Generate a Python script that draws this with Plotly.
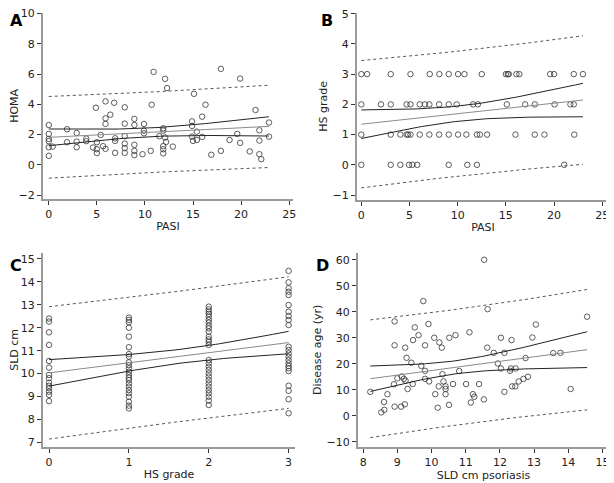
# psoriasis regression panels (A-D)

import numpy as np
import plotly.graph_objects as go

# A: HOMA vs PASI
a_pasi = [0, 0, 0, 0, 0, 0, 0.4, 1.9, 1.9, 2.9, 2.9, 2.9, 3.9, 3.9, 4.6, 4.9, 5, 5, 5,
          5.4, 5.65, 5.9, 5.9, 5.9, 5.9, 6.4, 6.8, 6.9, 6.9, 6.9, 7.9, 7.9, 7.9, 7.9,
          7.9, 7.9, 8.9, 8.9, 8.9, 8.9, 8.9, 9.75, 9.9, 9.9, 9.9, 10.6, 10.7, 10.9,
          11.5, 11.9, 11.9, 11.9, 11.9, 11.9, 12.1, 12.1, 12.2, 12.3, 12.9, 14.9,
          14.9, 14.9, 15.0, 15.1, 15.4, 15.4, 15.95, 15.95, 16.3, 16.9, 17.9, 17.9,
          18.8, 19.6, 19.9, 19.9, 20.9, 21.5, 21.9, 21.9, 21.9, 22.1, 22.9, 22.9]
a_homa = [2.63, 2.04, 1.71, 1.56, 1.16, 0.59, 1.2, 2.35, 1.49, 2.1, 1.53, 1.16, 1.73,
          1.56, 1.14, 3.77, 1.49, 1.03, 0.77, 1.97, 1.23, 4.19, 3.07, 2.7, 1.05, 3.31,
          4.1, 1.75, 1.58, 0.79, 3.8, 2.72, 1.89, 1.4, 1.1, 0.79, 3.03, 2.63, 1.32,
          0.92, 0.64, 0.7, 2.7, 2.26, 2.08, 0.92, 3.97, 6.14, 1.89, 2.41, 2.26, 1.23,
          1.03, 0.75, 5.68, 1.8, 1.51, 5.07, 1.2, 2.87, 2.57, 1.86, 1.58, 4.69, 1.64,
          2.19, 3.18, 1.84, 3.97, 0.66, 0.92, 6.34, 1.64, 2.04, 1.45, 5.7, 0.88, 3.62,
          2.28, 1.6, 0.7, 0.37, 2.79, 1.86]

# B: HS grade vs PASI
b_pasi_3 = [0, 0.6, 3.05, 5.1, 7.1, 8.1, 9.07, 10.04, 10.7, 12.5, 15.0, 15.2, 15.3,
            16.1, 16.4, 19.6, 20.0, 22.05, 23.0]
b_pasi_2 = [0, 2.04, 3.05, 4.7, 5.1, 6.06, 6.6, 7.06, 8.07, 9.07, 9.9, 11.6, 12.1,
            15.1, 17.0, 18.0, 20.05, 21.7, 22.05]
b_pasi_1 = [0, 3.05, 4.05, 4.7, 4.85, 5.1, 6.06, 7.06, 8.07, 9.07, 10.04, 10.9, 12.0,
            12.3, 13.05, 16.0, 18.0, 19.0, 22.1]
b_pasi_0 = [0, 3.05, 4.05, 4.95, 5.3, 5.8, 9.07, 11.0, 12.0, 21.05]

# C: SLD cm vs HS grade
c_sld_0 = [12.4, 12.27, 11.8, 11.25, 10.55, 10.26, 9.94, 9.8, 9.6, 9.47, 9.36, 9.21,
           9.07, 8.8]
c_sld_1 = [12.44, 12.34, 12.24, 12.0, 11.61, 11.15, 10.85, 10.74, 10.49, 10.37, 10.23,
           10.08, 9.94, 9.82, 9.72, 9.57, 9.43, 9.28, 9.14, 8.99, 8.77, 8.6, 8.48]
c_sld_2 = [12.92, 12.8, 12.7, 12.6, 12.48, 12.34, 12.22, 12.08, 11.97, 11.83, 11.61,
           11.49, 11.39, 11.25, 10.59, 10.45, 10.3, 10.16, 10.01, 9.87, 9.72, 9.57,
           9.43, 9.28, 9.14, 8.99, 8.82, 8.63]
c_sld_3 = [14.48, 13.98, 13.72, 13.57, 13.43, 12.99, 12.7, 12.51, 12.34, 12.12, 11.17,
           11.03, 10.88, 10.74, 10.59, 10.45, 10.33, 10.23, 10.11, 9.47, 9.25, 8.88,
           8.27]

# D: disease age vs SLD
d_sld = [8.21, 8.53, 8.62, 8.61, 8.71, 8.9, 8.92, 8.92, 8.92, 9.0, 9.11, 9.13, 9.19,
         9.22, 9.23, 9.24, 9.27, 9.3, 9.41, 9.45, 9.46, 9.51, 9.62, 9.7, 9.76, 9.81,
         9.81, 9.81, 9.91, 9.93, 10.08, 10.11, 10.18, 10.21, 10.23, 10.3, 10.32, 10.35,
         10.41, 10.41, 10.41, 10.51, 10.52, 10.63, 10.7, 10.81, 11.01, 11.11, 11.15,
         11.21, 11.25, 11.39, 11.53, 11.54, 11.64, 11.63, 11.82, 11.94, 12.03, 12.03,
         12.13, 12.13, 12.3, 12.32, 12.34, 12.36, 12.45, 12.46, 12.55, 12.69, 12.75,
         12.82, 12.95, 13.05, 13.56, 13.77, 14.07, 14.55]
d_age = [9.2, 1.3, 2.3, 5.3, 8.3, 12.1, 36.3, 27.1, 3.5, 14.4, 3.5, 15.1, 14.2, 4.4,
         26.2, 13.5, 22.3, 10.3, 20.4, 12.2, 29.1, 34.0, 31.0, 19.2, 44.1, 17.3, 27.1,
         14.2, 35.3, 13.2, 30.0, 8.3, 3.1, 11.3, 28.2, 26.2, 16.0, 13.2, 11.3, 10.3,
         8.3, 4.2, 30.0, 12.2, 31.0, 17.2, 12.2, 32.1, 5.1, 8.3, 7.3, 12.2, 6.3, 60.0,
         41.0, 26.2, 24.2, 20.1, 18.2, 30.0, 9.2, 24.2, 17.3, 18.2, 29.1, 11.3, 11.3,
         18.2, 13.2, 14.2, 22.2, 15.0, 30.1, 35.1, 24.1, 24.2, 10.3, 38.1]

FONT = "DejaVu Sans"


def bands(x, y, n_pts=60):
    # ordinary least squares with 95% confidence and prediction limits
    x = np.asarray(x, float)
    y = np.asarray(y, float)
    n = len(x)
    b1, b0 = np.polyfit(x, y, 1)
    s = np.sqrt(np.sum((y - (b0 + b1 * x)) ** 2) / (n - 2))
    sxx = np.sum((x - x.mean()) ** 2)
    df = n - 2
    t = 1.96 + (1.96 ** 3 + 1.96) / (4 * df)
    xs = np.linspace(x.min(), x.max(), n_pts)
    fit = b0 + b1 * xs
    ci = t * s * np.sqrt(1 / n + (xs - x.mean()) ** 2 / sxx)
    pi = t * s * np.sqrt(1 + 1 / n + (xs - x.mean()) ** 2 / sxx)
    return xs, fit, ci, pi


def add_panel(fig, x, y, xa, ya):
    xs, fit, ci, pi = bands(x, y)
    ax = dict(xaxis=xa, yaxis=ya)
    fig.add_trace(go.Scatter(x=x, y=y, mode='markers',
                             marker=dict(symbol='circle-open', size=5.5,
                                         color='#333333', line=dict(width=0.8)),
                             **ax))
    for yy, col, dash, w in [(fit + pi, '#555555', 'dot', 1),
                             (fit - pi, '#555555', 'dot', 1),
                             (fit + ci, '#222222', 'solid', 1),
                             (fit - ci, '#222222', 'solid', 1),
                             (fit, '#8a8a8a', 'solid', 1)]:
        fig.add_trace(go.Scatter(x=xs, y=yy, mode='lines',
                                 line=dict(color=col, dash=dash, width=w), **ax))


fig = go.Figure()

b_x = b_pasi_3 + b_pasi_2 + b_pasi_1 + b_pasi_0
b_y = [3] * len(b_pasi_3) + [2] * len(b_pasi_2) + [1] * len(b_pasi_1) + [0] * len(b_pasi_0)
c_x = [0] * len(c_sld_0) + [1] * len(c_sld_1) + [2] * len(c_sld_2) + [3] * len(c_sld_3)
c_y = c_sld_0 + c_sld_1 + c_sld_2 + c_sld_3

add_panel(fig, a_pasi, a_homa, 'x', 'y')
add_panel(fig, b_x, b_y, 'x2', 'y2')
add_panel(fig, c_x, c_y, 'x3', 'y3')
add_panel(fig, d_sld, d_age, 'x4', 'y4')


def axis(domain, rng, dtick, title, anchor, standoff):
    return dict(domain=domain, range=rng, dtick=dtick, anchor=anchor,
                automargin=False, ticklabeloverflow='allow',
                showgrid=False, zeroline=False, showline=True,
                linecolor='#9a9a9a', linewidth=2, ticks='outside',
                ticklen=4, tickwidth=1, tickcolor='#333333',
                tickfont=dict(family=FONT, size=11, color='#222222'),
                title=dict(text=title, font=dict(family=FONT, size=11, color='#222222'),
                           standoff=standoff))


# the page puts the figure 8px in from the top-left corner, so it is 606x475
fig.update_layout(
    width=606, height=475,
    margin=dict(l=0, r=0, t=0, b=0),
    plot_bgcolor='white', paper_bgcolor='white',
    showlegend=False,
    xaxis=axis([0.0578, 0.4703], [-0.6, 25.4], 5, 'PASI', 'y', 2),
    yaxis=axis([0.598, 0.99], [-2.26, 10.05], 2, 'HOMA', 'x', 3),
    xaxis2=axis([0.5759, 0.9917], [-0.45, 25.7], 5, 'PASI', 'y2', 2),
    yaxis2=axis([0.596, 0.99], [-1.16, 5.03], 1, 'HS grade', 'x2', 3),
    xaxis3=axis([0.0578, 0.4736], [-0.075, 3.08], 1, 'HS grade', 'y3', 2),
    yaxis3=axis([0.0764, 0.4842], [6.81, 15.26], 1, 'SLD cm', 'x3', 3),
    xaxis4=axis([0.5776, 0.9917], [7.85, 15.19], 1, 'SLD cm psoriasis', 'y4', 2),
    yaxis4=axis([0.0764, 0.4842], [-11.9, 62.6], 10, 'Disease age (yr)', 'x4', 3),
)

for txt, x, y in [('A', 0.0, 0.997), ('B', 0.513, 0.997),
                  ('C', 0.0, 0.482), ('D', 0.505, 0.482)]:
    fig.add_annotation(text=f'<b>{txt}</b>', x=x, y=y, xref='paper', yref='paper',
                       xanchor='left', yanchor='top', showarrow=False,
                       font=dict(family=FONT, size=16, color='black'))

fig.write_html("out.html")
